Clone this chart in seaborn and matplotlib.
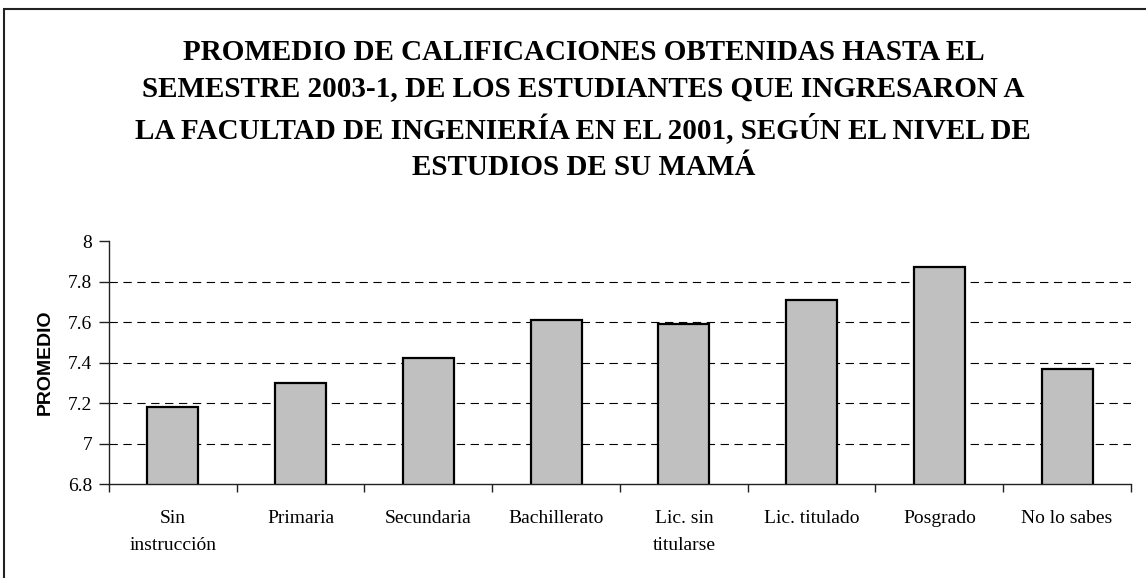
import numpy as np
import pandas as pd
import matplotlib
matplotlib.use("Agg")
import matplotlib.pyplot as plt
import seaborn as sns
from matplotlib.patches import Rectangle

niveles = ["Sin\ninstrucción", "Primaria", "Secundaria", "Bachillerato",
           "Lic. sin\ntitularse", "Lic. titulado", "Posgrado", "No lo sabes"]
promedio = [7.18, 7.30, 7.42, 7.61, 7.59, 7.71, 7.87, 7.37]
yticks = [6.8, 7.0, 7.2, 7.4, 7.6, 7.8, 8.0]
ytick_labels = ["6.8", "7", "7.2", "7.4", "7.6", "7.8", "8"]

titulo = ("PROMEDIO DE CALIFICACIONES OBTENIDAS HASTA EL\n"
          "SEMESTRE 2003-1, DE LOS ESTUDIANTES QUE INGRESARON A\n"
          "LA FACULTAD DE INGENIERÍA EN EL 2001, SEGÚN EL NIVEL DE\n"
          "ESTUDIOS DE SU MAMÁ")

df = pd.DataFrame({"nivel": niveles, "promedio": promedio})

sns.set_style("white")
plt.rcParams["font.family"] = ["Liberation Serif", "DejaVu Serif"]
plt.rcParams["text.color"] = "black"
plt.rcParams["axes.labelcolor"] = "black"
plt.rcParams["xtick.color"] = "black"
plt.rcParams["ytick.color"] = "black"

fig = plt.figure(figsize=(11.46, 5.78), dpi=100)
ax = fig.add_axes([0.0951, 0.1626, 0.8918, 0.4204])

sns.barplot(data=df, x="nivel", y="promedio", color="#C0C0C0",
            edgecolor="black", linewidth=1.6, width=0.40, saturation=1,
            ax=ax, zorder=3)
for p in ax.patches:
    p.set_facecolor("#C0C0C0")

ax.set_ylim(6.8, 8.0)
ax.set_xlim(-0.5, len(niveles) - 0.5)
ax.set_yticks(yticks)
ax.set_yticklabels(ytick_labels, fontsize=14, color="black")
ax.set_xticks(range(len(niveles)))
ax.set_xticklabels(niveles, fontsize=14, linespacing=1.75, color="black")
ax.set_xticks(np.arange(len(niveles) + 1) - 0.5, minor=True)
ax.tick_params(axis="x", which="major", length=0, pad=19)
ax.tick_params(axis="x", which="minor", bottom=True, length=6, width=1,
               color="#222222", direction="out")
ax.tick_params(axis="y", which="major", length=7, width=1, color="#222222",
               direction="out", pad=5, left=True)

ax.yaxis.grid(True, color="black", linewidth=0.8, linestyle=(0, (7.5, 5)), zorder=1)
for gl, v in zip(ax.get_ygridlines(), yticks):
    if v in (6.8, 8.0):
        gl.set_visible(False)
ax.set_axisbelow(True)

sns.despine(ax=ax, top=True, right=True)
for s in ("left", "bottom"):
    ax.spines[s].set_color("#222222")
    ax.spines[s].set_linewidth(1.0)
    ax.spines[s].set_zorder(4)

ax.set_xlabel("")
ax.set_ylabel("PROMEDIO", fontsize=14, fontweight="bold", color="black",
              family=["Liberation Sans", "DejaVu Sans"], labelpad=10)

fig.text(0.509, 0.81, titulo, ha="center", va="center", fontsize=21,
         fontweight="bold", linespacing=1.45, color="black")

fig.patches.append(Rectangle((4 / 1146, -0.01), 1.02, 1.0 - 9 / 578 + 0.01,
                             transform=fig.transFigure, fill=False,
                             edgecolor="#222222", linewidth=1.5))

fig.savefig("out.png", dpi=100)
